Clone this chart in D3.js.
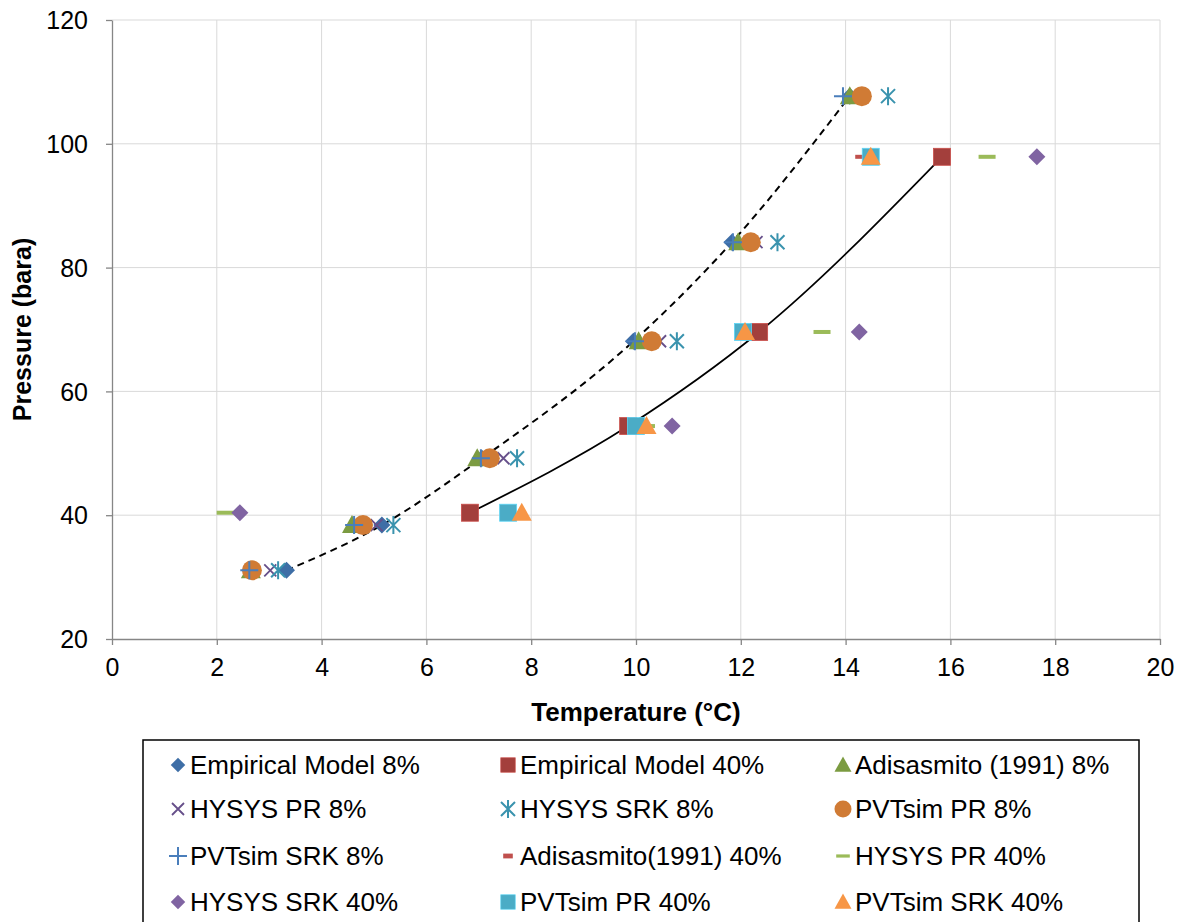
<!DOCTYPE html>
<html>
<head>
<meta charset="utf-8">
<script src="https://cdn.jsdelivr.net/npm/d3@7"></script>
<style>
  body { margin: 0; background: #fff; }
  svg { font-family: "Liberation Sans", Arial, sans-serif; }
</style>
</head>
<body>
<svg id="chart" width="1183" height="922"></svg>
<script>
// pressure levels (bara)
var p8 = [31.1, 38.4, 49.2, 68.1, 84.1, 107.7];
var p40 = [40.4, 54.4, 69.6, 97.9];

// temperatures (degC) per series
var empirical8 = [3.33, 5.15, 7.06, 9.95, 11.83, 14.08];
var empirical40 = [6.83, 9.85, 12.35, 15.84];
var adisasmito8 = [2.65, 4.58, 6.97, 10.05, 11.95, 14.08];
var hysysPR8 = [3.02, 5.05, 7.47, 10.46, 12.3, 14.3];
var hysysSRK8 = [3.17, 5.37, 7.73, 10.78, 12.7, 14.81];
var pvtsimPR8 = [2.67, 4.79, 7.21, 10.3, 12.19, 14.31];
var pvtsimSRK8 = [2.62, 4.62, 7.04, 9.98, 11.85, 13.95];
var adisasmito40 = [7.55, 10.0, 12.0, 14.26];
var hysysPR40 = [2.16, 10.2, 13.55, 16.7];
var hysysSRK40 = [2.44, 10.69, 14.26, 17.65];
var pvtsimPR40 = [7.56, 10.0, 12.04, 14.48];
var pvtsimSRK40 = [7.82, 10.2, 12.08, 14.48];

var xTicks = [0, 2, 4, 6, 8, 10, 12, 14, 16, 18, 20];
var yTicks = [20, 40, 60, 80, 100, 120];

var seriesNames = ["Empirical Model 8%", "Empirical Model 40%", "Adisasmito (1991) 8%",
  "HYSYS PR 8%", "HYSYS SRK 8%", "PVTsim PR 8%",
  "PVTsim SRK 8%", "Adisasmito(1991) 40%", "HYSYS PR 40%",
  "HYSYS SRK 40%", "PVTsim PR 40%", "PVTsim SRK 40%"];

var series = [
  {temps: empirical8, pres: p8, shape: "diamond", color: "#3e6ea6"},
  {temps: empirical40, pres: p40, shape: "square", color: "#a33f3c"},
  {temps: adisasmito8, pres: p8, shape: "triangle", color: "#7b9b41"},
  {temps: hysysPR8, pres: p8, shape: "x", color: "#664f8a"},
  {temps: hysysSRK8, pres: p8, shape: "asterisk", color: "#3a93ae"},
  {temps: pvtsimPR8, pres: p8, shape: "circle", color: "#d07b35"},
  {temps: pvtsimSRK8, pres: p8, shape: "plus", color: "#4a7ebb"},
  {temps: adisasmito40, pres: p40, shape: "dash", color: "#c0504d"},
  {temps: hysysPR40, pres: p40, shape: "longdash", color: "#9bbb59"},
  {temps: hysysSRK40, pres: p40, shape: "diamond", color: "#8064a2"},
  {temps: pvtsimPR40, pres: p40, shape: "square", color: "#4bacc6"},
  {temps: pvtsimSRK40, pres: p40, shape: "triangle", color: "#f79646"}
];

var svg = d3.select("#chart");
var margin = {top: 20, right: 23, bottom: 283, left: 112};
var width = 1183, height = 922;

var x = d3.scaleLinear().domain([0, 20]).range([margin.left, width - margin.right]);
var y = d3.scaleLinear().domain([20, 120]).range([height - margin.bottom, margin.top]);

// gridlines
svg.append("g").selectAll("line.v").data(xTicks.slice(1)).enter().append("line")
  .attr("x1", d => x(d)).attr("x2", d => x(d))
  .attr("y1", y(20)).attr("y2", y(120))
  .attr("stroke", "#d9d9d9").attr("stroke-width", 1);
svg.append("g").selectAll("line.h").data(yTicks.slice(1)).enter().append("line")
  .attr("x1", x(0)).attr("x2", x(20))
  .attr("y1", d => y(d)).attr("y2", d => y(d))
  .attr("stroke", "#d9d9d9").attr("stroke-width", 1);

// axes
var xAxis = d3.axisBottom(x).tickValues(xTicks).tickSize(6).tickPadding(13).tickSizeOuter(0);
var yAxis = d3.axisLeft(y).tickValues(yTicks).tickSize(6).tickPadding(18).tickSizeOuter(0);

var gx = svg.append("g").attr("transform", "translate(0," + y(20) + ")").call(xAxis);
var gy = svg.append("g").attr("transform", "translate(" + x(0) + ",0)").call(yAxis);
[gx, gy].forEach(g => {
  g.select(".domain").attr("stroke", "#868686").attr("stroke-width", 1.3);
  g.selectAll(".tick line").attr("stroke", "#868686").attr("stroke-width", 1.3);
  g.selectAll(".tick text").attr("fill", "#000").style("font-size", "25px")
    .style("font-family", "'Liberation Sans', Arial, sans-serif");
});
gy.selectAll(".tick text").attr("dy", "0.35em");

// axis titles
svg.append("text")
  .attr("x", x(10)).attr("y", 721)
  .attr("text-anchor", "middle")
  .style("font-size", "26px").style("font-weight", "bold")
  .text("Temperature (°C)");
svg.append("text")
  .attr("transform", "rotate(-90)")
  .attr("x", -y(70)).attr("y", 31)
  .attr("text-anchor", "middle")
  .style("font-size", "25px").style("font-weight", "bold")
  .text("Pressure (bara)");

// trend curves
var line = d3.line().x(d => x(d[0])).y(d => y(d[1])).curve(d3.curveMonotoneX);
svg.append("path")
  .datum(empirical8.map((t, i) => [t, p8[i]]))
  .attr("d", line).attr("fill", "none")
  .attr("stroke", "#000").attr("stroke-width", 2).attr("stroke-dasharray", "7,5");
svg.append("path")
  .datum(empirical40.map((t, i) => [t, p40[i]]))
  .attr("d", line).attr("fill", "none")
  .attr("stroke", "#000").attr("stroke-width", 1.7);

// marker drawing
function drawMarker(g, shape, color, cx, cy, scale) {
  var s = scale || 1;
  var m = g.append("g").attr("transform", "translate(" + cx + "," + cy + ") scale(" + s + ")");
  if (shape === "diamond") {
    m.append("path").attr("d", "M0,-8.5L8.5,0L0,8.5L-8.5,0Z").attr("fill", color);
  } else if (shape === "square") {
    m.append("rect").attr("x", -8.5).attr("y", -8.5).attr("width", 17).attr("height", 17)
      .attr("fill", color).attr("stroke", d3.color(color).brighter(0.6)).attr("stroke-width", 0.8);
  } else if (shape === "triangle") {
    m.append("path").attr("d", "M0,-10L10,8L-10,8Z").attr("fill", color);
  } else if (shape === "circle") {
    m.append("circle").attr("r", 10).attr("fill", color);
  } else if (shape === "x") {
    m.append("path").attr("d", "M-6,-6L6,6M-6,6L6,-6").attr("stroke", color).attr("stroke-width", 1.8);
  } else if (shape === "asterisk") {
    m.append("path").attr("d", "M-7,-7L7,7M-7,7L7,-7M0,-9L0,9").attr("stroke", color).attr("stroke-width", 2);
  } else if (shape === "plus") {
    m.append("path").attr("d", "M-9,0L9,0M0,-9L0,9").attr("stroke", color).attr("stroke-width", 2);
  } else if (shape === "dash") {
    m.append("rect").attr("x", -4).attr("y", -2).attr("width", 8).attr("height", 4).attr("fill", color);
  } else if (shape === "longdash") {
    m.append("rect").attr("x", -8.5).attr("y", -2).attr("width", 17).attr("height", 4).attr("fill", color);
  }
}

// points
var pts = svg.append("g");
series.forEach(s => {
  s.temps.forEach((t, i) => drawMarker(pts, s.shape, s.color, x(t), y(s.pres[i])));
});

// legend
var legendScale = {diamond: 0.85, square: 0.85, triangle: 0.85, circle: 0.85,
  x: 1, asterisk: 1, plus: 1, dash: 1.2, longdash: 0.8};
var legend = svg.append("g");
legend.append("rect")
  .attr("x", 143).attr("y", 740).attr("width", 996).attr("height", 200)
  .attr("fill", "#fff").attr("stroke", "#000").attr("stroke-width", 1.5);
var colX = [178, 508, 843];
var rowY = [765, 809, 856, 902];
seriesNames.forEach((name, i) => {
  var cx = colX[i % 3], cy = rowY[Math.floor(i / 3)];
  var sh = series[i].shape;
  drawMarker(legend, sh, series[i].color, cx, cy, legendScale[sh]);
  legend.append("text")
    .attr("x", cx + 12).attr("y", cy).attr("dy", "0.35em")
    .style("font-size", "26px")
    .text(name);
});
</script>
</body>
</html>
